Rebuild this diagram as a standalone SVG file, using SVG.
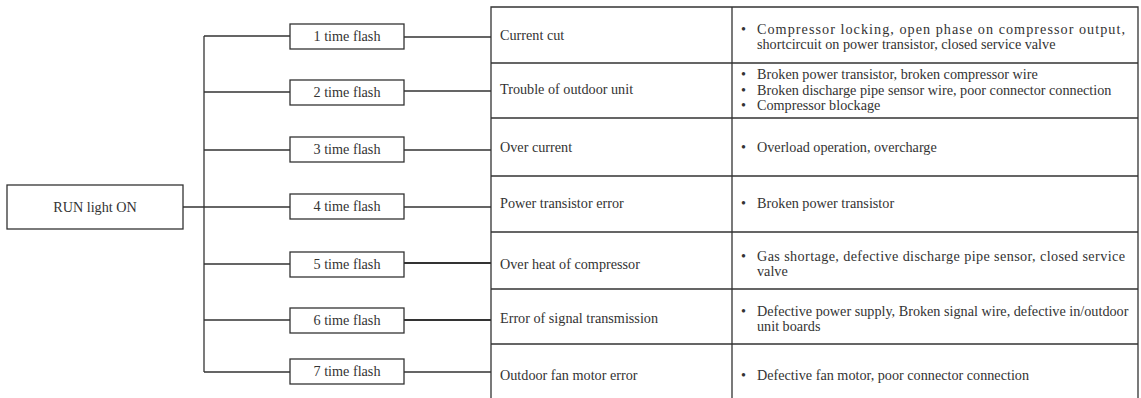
<svg xmlns="http://www.w3.org/2000/svg" width="1141" height="398" viewBox="0 0 1141 398">
<style>
.box{fill:#fff;stroke:#333;stroke-width:1.3}
.ln{fill:none;stroke:#333;stroke-width:1.3}
.thick{stroke-width:2.2}
text{font-family:"Liberation Serif","Times New Roman",serif;font-size:14.2px;fill:#333}
.c{text-anchor:middle}
</style>
<rect width="1141" height="398" fill="#fff"/>
<g id="connectors">
<path class="ln" d="M204,36 V372"/>
<path class="ln" d="M183,207 H290"/>
<path class="ln" d="M204,36 H290 M204,92 H290 M204,150 H290 M204,264 H290 M204,320 H290 M204,372 H290"/>
<path class="ln" d="M404,37 H491 M404,91 H491 M404,150 H491 M404,207 H491 M404,372 H491"/>
<path class="ln thick" d="M404,263 H491 M404,320 H491"/>
</g>
<g id="run"><rect class="box" x="7" y="185" width="176" height="44"/><text class="c" x="95" y="212">RUN light ON</text></g>
<g id="f1"><rect class="box" x="290" y="24" width="114" height="25"/><text class="c" x="347" y="41">1 time flash</text></g>
<g id="f2"><rect class="box" x="290" y="80" width="114" height="25"/><text class="c" x="347" y="97">2 time flash</text></g>
<g id="f3"><rect class="box" x="290" y="137" width="114" height="25"/><text class="c" x="347" y="154">3 time flash</text></g>
<g id="f4"><rect class="box" x="290" y="194" width="114" height="25"/><text class="c" x="347" y="211">4 time flash</text></g>
<g id="f5"><rect class="box" x="290" y="252" width="114" height="25"/><text class="c" x="347" y="269">5 time flash</text></g>
<g id="f6"><rect class="box" x="290" y="308" width="114" height="25"/><text class="c" x="347" y="325">6 time flash</text></g>
<g id="f7"><rect class="box" x="290" y="359" width="114" height="25"/><text class="c" x="347" y="376">7 time flash</text></g>
<g id="table">
<path class="ln" d="M491,398 V7 H1138 V398 M732,7 V398 M491,63 H1138 M491,118 H1138 M491,176 H1138 M491,232 H1138 M491,289 H1138 M491,344 H1138"/>
<text x="500" y="40">Current cut</text>
<text x="500" y="94">Trouble of outdoor unit</text>
<text x="500" y="152">Over current</text>
<text x="500" y="208">Power transistor error</text>
<text x="500" y="269">Over heat of compressor</text>
<text x="500" y="323">Error of signal transmission</text>
<text x="500" y="380">Outdoor fan motor error</text>
<g>
<text x="741" y="34">•</text><text x="757" y="34" textLength="368" lengthAdjust="spacing">Compressor locking, open phase on compressor output,</text>
<text x="757" y="49">shortcircuit on power transistor, closed service valve</text>
<text x="741" y="79">•</text><text x="757" y="79">Broken power transistor, broken compressor wire</text>
<text x="741" y="94.5">•</text><text x="757" y="94.5">Broken discharge pipe sensor wire, poor connector connection</text>
<text x="741" y="110">•</text><text x="757" y="110">Compressor blockage</text>
<text x="741" y="152">•</text><text x="757" y="152">Overload operation, overcharge</text>
<text x="741" y="208">•</text><text x="757" y="208">Broken power transistor</text>
<text x="741" y="261">•</text><text x="757" y="261" textLength="368" lengthAdjust="spacing">Gas shortage, defective discharge pipe sensor, closed service</text>
<text x="757" y="276">valve</text>
<text x="741" y="316">•</text><text x="757" y="316">Defective power supply, Broken signal wire, defective in/outdoor</text>
<text x="757" y="331">unit boards</text>
<text x="741" y="380">•</text><text x="757" y="380">Defective fan motor, poor connector connection</text>
</g>
</g>
</svg>
